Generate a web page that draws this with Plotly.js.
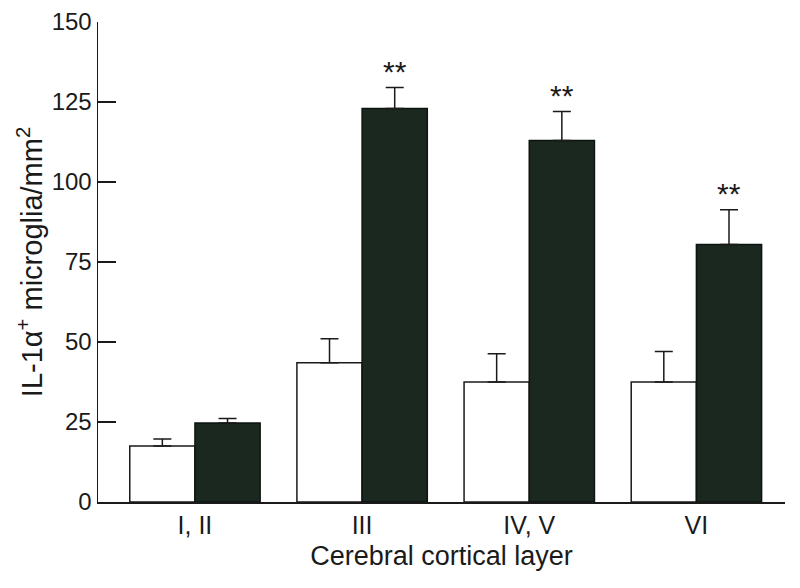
<!DOCTYPE html>
<html>
<head>
<meta charset="utf-8">
<script src="https://cdn.plot.ly/plotly-3.0.1.min.js"></script>
<style>html,body{margin:0;padding:0;background:#fff;}#chart{width:800px;height:588px;}</style>
</head>
<body>
<div id="chart"></div>
<script>
const categories = ["I, II", "III", "IV, V", "VI"];
const controlValues = [17.5, 43.5, 37.5, 37.5];
const controlErrors = [2.2, 7.5, 8.8, 9.5];
const treatedValues = [24.7, 123, 113, 80.5];
const treatedErrors = [1.4, 6.5, 9, 10.8];
const significance = ["", "**", "**", "**"];
const yTicks = [0, 25, 50, 75, 100, 125, 150];

const font = {family: "Liberation Sans, Arial, sans-serif", color: "#1a1a1a"};

const traces = [
  {
    type: "bar", name: "Control", x: categories, y: controlValues,
    marker: {color: "#ffffff", line: {color: "#1a1a1a", width: 1.5}},
    error_y: {type: "data", array: controlErrors, arrayminus: controlErrors.map(() => 0), symmetric: false, color: "#1a1a1a", thickness: 1.5, width: 9}
  },
  {
    type: "bar", name: "Treated", x: categories, y: treatedValues,
    marker: {color: "#1a2820", line: {color: "#0d1410", width: 1.5}},
    error_y: {type: "data", array: treatedErrors, arrayminus: treatedErrors.map(() => 0), symmetric: false, color: "#1a1a1a", thickness: 1.5, width: 9}
  }
];

const annotations = [];
significance.forEach((s, i) => {
  if (!s) return;
  annotations.push({
    x: i + 0.195, y: treatedValues[i] + treatedErrors[i], xref: "x", yref: "y",
    text: s, showarrow: false, yanchor: "bottom", yshift: -2,
    font: {family: font.family, size: 30, color: "#1a1a1a"}
  });
});

const layout = {
  width: 800, height: 588,
  margin: {l: 98, r: 15, t: 22, b: 86},
  paper_bgcolor: "#fff", plot_bgcolor: "#fff",
  showlegend: false,
  barmode: "group", bargap: 0.22, bargroupgap: 0,
  font: font,
  xaxis: {
    type: "category", range: [-0.58, 3.53],
    showline: true, linecolor: "#1a1a1a", linewidth: 1.5,
    ticks: "", showgrid: false, zeroline: false,
    tickfont: {family: font.family, size: 25, color: "#1a1a1a"},
    title: {text: "Cerebral cortical layer", font: {family: font.family, size: 27, color: "#1a1a1a"}, standoff: 8}
  },
  yaxis: {
    range: [0, 150], tickvals: yTicks, ticktext: yTicks.map(String),
    showline: true, linecolor: "#1a1a1a", linewidth: 1.5,
    ticks: "inside", ticklen: 18, tickwidth: 1.5, tickcolor: "#1a1a1a",
    showgrid: false, zeroline: false,
    tickfont: {family: font.family, size: 24, color: "#1a1a1a"},
    title: {text: "IL-1α<sup>+</sup> microglia/mm<sup>2</sup>", font: {family: font.family, size: 29, color: "#1a1a1a"}, standoff: 0}
  },
  annotations: annotations
};

Plotly.newPlot("chart", traces, layout, {displayModeBar: false, staticPlot: true});
</script>
</body>
</html>
